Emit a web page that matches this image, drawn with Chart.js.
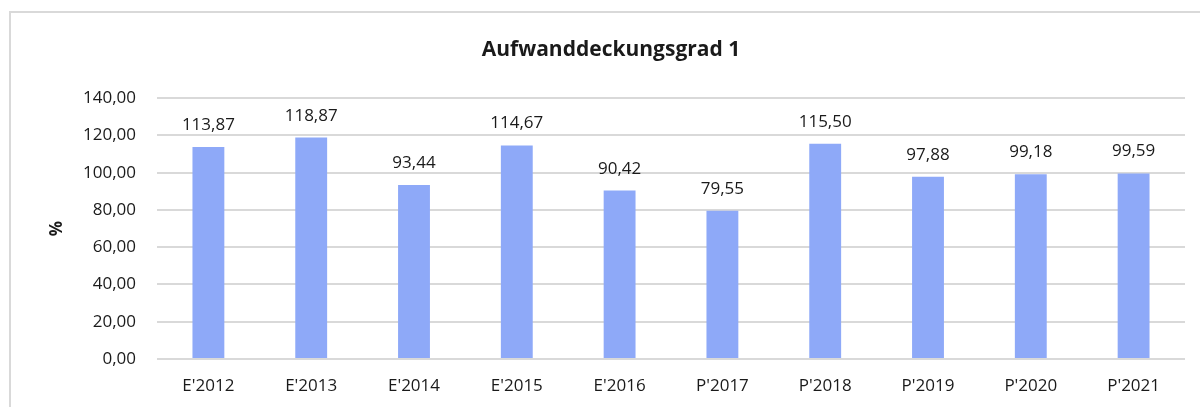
<!DOCTYPE html>
<html>
<head>
<meta charset="utf-8">
<title>Aufwanddeckungsgrad 1</title>
<script src="https://cdn.jsdelivr.net/npm/chart.js@4/dist/chart.umd.min.js"></script>
<style>
  html, body { margin: 0; padding: 0; background: #fff; overflow: hidden; }
  #wrap { position: relative; width: 1200px; height: 407px; }
  #frame {
    position: absolute; left: 9px; top: 11px; width: 1220px; height: 420px;
    border: 2px solid #d9d9d9; box-sizing: border-box;
  }
  #chart { position: absolute; left: 0; top: 0; }
</style>
</head>
<body>
<div id="wrap">
  <div id="frame"></div>
  <canvas id="chart" width="1200" height="407"></canvas>
</div>
<script>
const years = ["E'2012", "E'2013", "E'2014", "E'2015", "E'2016", "P'2017", "P'2018", "P'2019", "P'2020", "P'2021"];
const coverage = [113.87, 118.87, 93.44, 114.67, 90.42, 79.55, 115.50, 97.88, 99.18, 99.59];
const yTicks = [0, 20, 40, 60, 80, 100, 120, 140];

const FONT = "'Open Sans', 'Liberation Sans', sans-serif";

function fmt(v) {
  return v.toFixed(2).replace('.', ',');
}

// writes each bar's value above it
const valueLabels = {
  id: 'valueLabels',
  afterDatasetsDraw(chart) {
    const ctx = chart.ctx;
    const meta = chart.getDatasetMeta(0);
    ctx.save();
    ctx.font = '17px ' + FONT;
    ctx.fillStyle = '#1a1a1a';
    ctx.textAlign = 'center';
    ctx.textBaseline = 'alphabetic';
    meta.data.forEach((bar, i) => {
      ctx.fillText(fmt(coverage[i]), bar.x, bar.y - 17);
    });
    ctx.restore();
  }
};

new Chart(document.getElementById('chart').getContext('2d'), {
  type: 'bar',
  data: {
    labels: years,
    datasets: [{
      data: coverage,
      backgroundColor: '#8ea9f8',
      barPercentage: 0.62,
      categoryPercentage: 0.5
    }]
  },
  options: {
    responsive: false,
    animation: false,
    layout: { padding: { left: 37, right: 15, top: 37, bottom: 0 } },
    plugins: {
      legend: { display: false },
      tooltip: { enabled: false },
      title: {
        display: true,
        text: 'Aufwanddeckungsgrad 1',
        color: '#1a1a1a',
        font: { family: FONT, size: 21, weight: 'bold', lineHeight: 1.2 },
        padding: { top: 0, bottom: 36 }
      }
    },
    scales: {
      x: {
        afterFit(scale) {
          scale.height = 48;
        },
        grid: { display: false, drawTicks: false },
        border: { display: false },
        ticks: {
          color: '#1a1a1a',
          font: { family: FONT, size: 17 },
          padding: 17,
          maxRotation: 0
        }
      },
      y: {
        min: 0,
        max: 140,
        afterBuildTicks(scale) {
          scale.ticks = yTicks.map(v => ({ value: v }));
        },
        afterFit(scale) {
          scale.width = 120;
        },
        grid: { color: '#d9d9d9', lineWidth: 2, drawTicks: false },
        border: { display: false },
        ticks: {
          color: '#1a1a1a',
          font: { family: FONT, size: 17 },
          padding: 21,
          callback: v => fmt(v)
        },
        title: {
          display: true,
          text: '%',
          color: '#1a1a1a',
          font: { family: FONT, size: 17, weight: 'bold', lineHeight: 1.2 },
          padding: { top: 10, bottom: 0 }
        }
      }
    }
  },
  plugins: [valueLabels]
});
</script>
</body>
</html>
